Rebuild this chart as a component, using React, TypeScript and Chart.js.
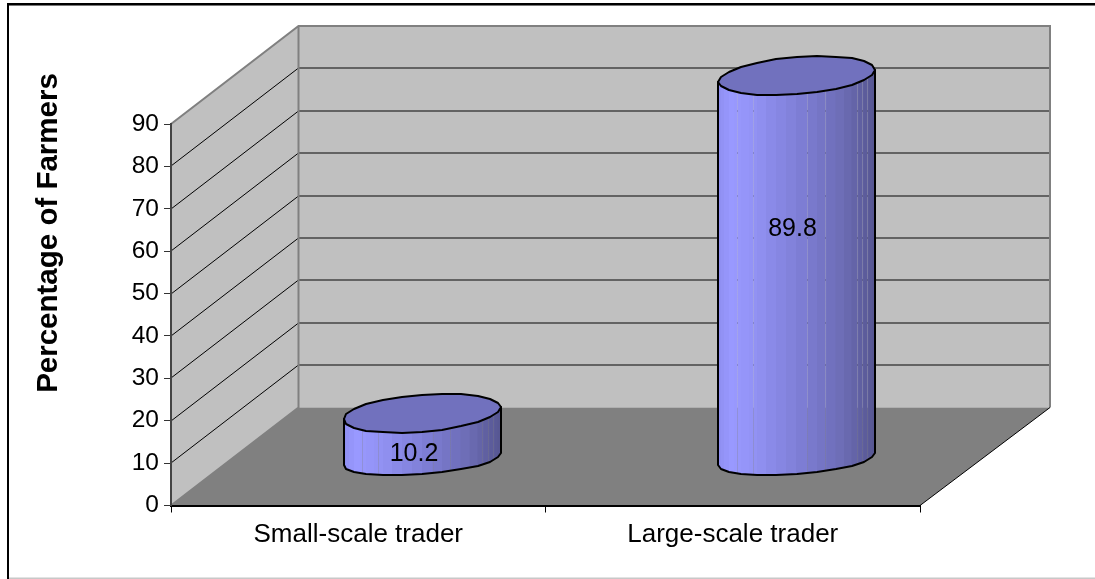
import React, { useEffect, useRef } from "react";
import { Chart, registerables } from "chart.js";

Chart.register(...registerables);

const categories = ["Small-scale trader", "Large-scale trader"];
const farmerShares = [10.2, 89.8];
const yAxisTitle = "Percentage of Farmers";

const FONT = '"Liberation Sans", Arial, sans-serif';
const DEPTH_X = 127.5;
const DEPTH_Y = -98;
const SEAMS = [0.12, 0.22, 0.57, 0.68, 0.745, 0.8, 0.85, 0.885, 0.92, 0.95, 0.98];

function ramp(t: number, alpha = 1) {
  const stops = [
    [0, 142, 142, 240],
    [0.08, 153, 153, 255],
    [0.2, 148, 148, 247],
    [0.55, 124, 124, 210],
    [0.8, 108, 108, 180],
    [1, 86, 86, 145],
  ];
  let i = 0;
  while (i < stops.length - 2 && t > stops[i + 1][0]) i++;
  const a = stops[i];
  const b = stops[i + 1];
  const f = (t - a[0]) / (b[0] - a[0]);
  const c = [1, 2, 3].map((k) => Math.round(a[k] + (b[k] - a[k]) * f));
  return `rgba(${c[0]},${c[1]},${c[2]},${alpha})`;
}

function barGradient(ctx: CanvasRenderingContext2D, left: number, width: number) {
  const g = ctx.createLinearGradient(left, 0, left + width, 0);
  const edges: number[] = [];
  const N = 24;
  for (let i = 0; i <= N; i++) edges.push(0.5 - 0.5 * Math.cos((i * Math.PI) / N));
  const all = [...edges, ...SEAMS].sort((p, q) => p - q);
  const seamW = 1 / width;
  for (let i = 0; i < all.length - 1; i++) {
    const a = all[i];
    const b = all[i + 1];
    if (b - a < 1e-6) continue;
    const isSeam = SEAMS.includes(a);
    if (isSeam && b - a > seamW) {
      g.addColorStop(a, ramp(a, 0.7));
      g.addColorStop(a + seamW, ramp(a, 0.7));
      g.addColorStop(a + seamW, ramp((a + b) / 2));
      g.addColorStop(b, ramp((a + b) / 2));
    } else {
      g.addColorStop(a, ramp((a + b) / 2));
      g.addColorStop(b, ramp((a + b) / 2));
    }
  }
  return g;
}

function ellipsePoints(cx: number, cy: number, a: number, B: number, from: number, to: number, n: number) {
  const pts: [number, number][] = [];
  const K = 6;
  for (let i = 0; i <= n; i++) {
    const t = from + ((to - from) * i) / n;
    pts.push([Math.round(cx + a * Math.cos(t)), Math.round(cy + B * Math.sin(t) - K * Math.cos(t))]);
  }
  return pts;
}

const scene = {
  id: "scene",
  beforeDraw(chart: any) {
    const { ctx, chartArea: ca, scales } = chart;
    const y = scales.y;
    ctx.save();
    // frame
    ctx.fillStyle = "#fff";
    ctx.fillRect(0, 0, chart.width, chart.height);
    ctx.fillStyle = "#000";
    ctx.fillRect(7, 3, chart.width, 2);
    ctx.fillRect(7, 3, 2, chart.height);
    ctx.fillStyle = "#777";
    ctx.fillRect(9, 5, chart.width, 1);
    ctx.fillStyle = "#c8c8c8";
    ctx.fillRect(9, 577.5, chart.width, 1.5);

    const L = ca.left, R = ca.right, T = ca.top, B = ca.bottom;
    const bx = L + DEPTH_X, rx = R + DEPTH_X + 2.5;
    const by = B + DEPTH_Y, ty = T + DEPTH_Y;
    // walls
    ctx.fillStyle = "#c0c0c0";
    ctx.beginPath();
    ctx.moveTo(L, B); ctx.lineTo(L, T); ctx.lineTo(bx, ty); ctx.lineTo(rx, ty); ctx.lineTo(rx, by); ctx.lineTo(bx, by);
    ctx.closePath();
    ctx.fill();
    // floor
    ctx.fillStyle = "#808080";
    ctx.beginPath();
    ctx.moveTo(L, B); ctx.lineTo(R, B); ctx.lineTo(rx, by); ctx.lineTo(bx, by);
    ctx.closePath();
    ctx.fill();
    // grid lines follow the y scale
    for (const tick of y.ticks) {
      if (tick.value === 0 || tick.value === 90) continue;
      const p = Math.round(y.getPixelForValue(tick.value));
      ctx.lineWidth = 1;
      ctx.strokeStyle = "#000";
      ctx.beginPath();
      ctx.moveTo(L, p);
      ctx.lineTo(bx, p + DEPTH_Y);
      ctx.stroke();
      ctx.strokeStyle = "#444";
      ctx.lineWidth = 1.4;
      ctx.beginPath();
      ctx.moveTo(bx, p + DEPTH_Y);
      ctx.lineTo(rx, p + DEPTH_Y);
      ctx.stroke();
    }
    // wall edges
    ctx.strokeStyle = "#808080";
    ctx.lineWidth = 2;
    ctx.beginPath();
    ctx.moveTo(L, T); ctx.lineTo(bx, ty); ctx.lineTo(rx, ty); ctx.lineTo(rx, by);
    ctx.moveTo(bx, ty); ctx.lineTo(bx, by); ctx.lineTo(L, B);
    ctx.stroke();
    // floor right edge
    ctx.strokeStyle = "#000";
    ctx.lineWidth = 1;
    ctx.beginPath();
    ctx.moveTo(R, B); ctx.lineTo(rx, by);
    ctx.stroke();
    // axis title
    ctx.translate(49, 233);
    ctx.rotate(-Math.PI / 2);
    ctx.fillStyle = "#000";
    ctx.font = `bold 29.5px ${FONT}`;
    ctx.textAlign = "center";
    ctx.textBaseline = "middle";
    ctx.fillText(yAxisTitle, 0, 0);
    ctx.restore();
  },
  beforeDatasetDraw(chart: any, args: any) {
    const { ctx } = chart;
    const meta = chart.getDatasetMeta(args.index);
    meta.data.forEach((bar: any, i: number) => {
      const { x, y, base, width } = bar.getProps(["x", "y", "base", "width"], true);
      const cx = x + DEPTH_X / 2;
      const a = width / 2;
      const left = cx - a;
      const topY = y + DEPTH_Y / 2;
      const botY = base + DEPTH_Y / 2;
      const lower = ellipsePoints(cx, botY + 3, a, 15.4, 0, Math.PI, 12);
      const whole = ellipsePoints(cx, topY, a, 18.6, 0, Math.PI * 2, 24);
      const silhouette = () => {
        ctx.beginPath();
        lower.forEach((p, k) => (k ? ctx.lineTo(p[0], p[1]) : ctx.moveTo(p[0], p[1])));
        ctx.lineTo(whole[12][0], whole[12][1]);
        ctx.lineTo(whole[0][0], whole[0][1]);
        ctx.closePath();
      };
      ctx.save();
      ctx.lineJoin = "round";
      ctx.fillStyle = barGradient(ctx, left, width);
      silhouette();
      ctx.fill();
      ctx.strokeStyle = "#000";
      ctx.lineWidth = 2;
      silhouette();
      ctx.stroke();
      ctx.fillStyle = "#7171be";
      ctx.beginPath();
      whole.forEach((p, k) => (k ? ctx.lineTo(p[0], p[1]) : ctx.moveTo(p[0], p[1])));
      ctx.closePath();
      ctx.fill();
      ctx.stroke();
      // value label
      const v = farmerShares[i];
      ctx.fillStyle = "#000";
      ctx.font = `25px ${FONT}`;
      ctx.textAlign = "center";
      ctx.textBaseline = "middle";
      ctx.fillText(String(v), cx - 8.5 + 0.05 * v, base - 23 + (y - base) * 0.664);
      ctx.restore();
    });
    return false;
  },
};

export default function App() {
  const ref = useRef<HTMLCanvasElement>(null);
  useEffect(() => {
    const chart = new Chart(ref.current!, {
      type: "bar",
      data: {
        labels: categories,
        datasets: [{ data: farmerShares, backgroundColor: "#9999FF", barThickness: 157 }],
      },
      plugins: [scene],
      options: {
        animation: false,
        responsive: false,
        layout: { padding: { top: 124, right: 175, left: 0, bottom: 0 } },
        plugins: { legend: { display: false }, tooltip: { enabled: false } },
        scales: {
          x: {
            grid: { drawOnChartArea: false, drawTicks: true, tickLength: 7, color: "#000", offset: true },
            border: { display: true, color: "#000", width: 2 },
            ticks: { color: "#000", font: { family: FONT, size: 26 }, padding: 7, maxRotation: 0 },
            afterFit(s: any) { s.height = 73.5; },
          },
          y: {
            min: 0,
            max: 90,
            grid: { drawOnChartArea: false, drawTicks: true, tickLength: 7, color: "#333" },
            border: { display: true, color: "#444", width: 2 },
            ticks: { stepSize: 10, color: "#000", font: { family: FONT, size: 24.5 }, padding: 5 },
            afterFit(s: any) { s.width = 171; },
          },
        },
      },
    } as any);
    return () => chart.destroy();
  }, []);
  return (
    <canvas
      ref={ref}
      width={1095}
      height={579}
      style={{ position: "fixed", left: 0, top: 0, width: 1095, height: 579, display: "block" }}
    />
  );
}
